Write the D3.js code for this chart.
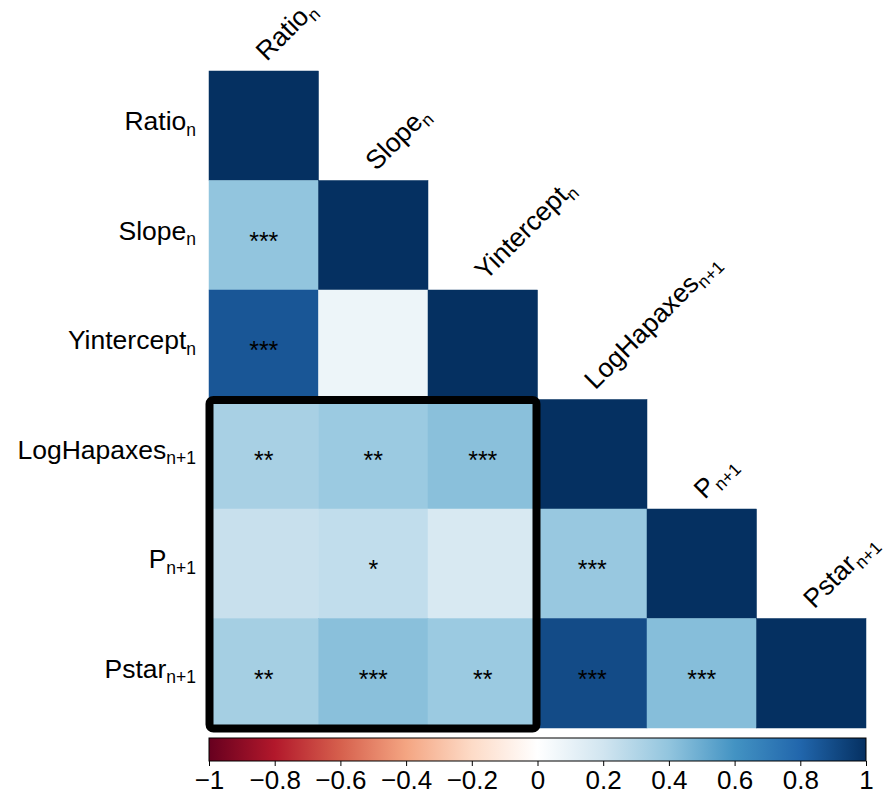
<!DOCTYPE html>
<html>
<head>
<meta charset="utf-8">
<script src="https://cdn.jsdelivr.net/npm/d3@7"></script>
<style>
  html, body { margin: 0; padding: 0; background: #fff; }
  svg { display: block; font-family: "Liberation Sans", Arial, Helvetica, sans-serif; }
</style>
</head>
<body>
<svg id="chart" width="886" height="801"></svg>
<script>
// Variable names (base text + subscript)
const varNames = ["Ratio", "Slope", "Yintercept", "LogHapaxes", "P", "Pstar"];
const varSubs  = ["n", "n", "n", "n+1", "n+1", "n+1"];

// Lower-triangle correlation coefficients, one row per variable
const corrRows = [
  [1.00],
  [0.40, 1.00],
  [0.86, 0.08, 1.00],
  [0.33, 0.37, 0.42, 1.00],
  [0.23, 0.25, 0.17, 0.38, 1.00],
  [0.34, 0.42, 0.37, 0.90, 0.43, 1.00]
];

// Significance markers for the same cells
const sigRows = [
  [""],
  ["***", ""],
  ["***", "", ""],
  ["**", "**", "***", ""],
  ["", "*", "", "***", ""],
  ["**", "***", "**", "***", "***", ""]
];

// Colour bar ticks
const barTicks = [-1, -0.8, -0.6, -0.4, -0.2, 0, 0.2, 0.4, 0.6, 0.8, 1];

// Diverging red-white-blue palette across [-1, 1]
const paletteColors = ["#67001F", "#B2182B", "#D6604D", "#F4A582", "#FDDBC7", "#FFFFFF",
                       "#D1E5F0", "#92C5DE", "#4393C3", "#2166AC", "#053061"];

const svg = d3.select("#chart");
const ids = d3.range(varNames.length);

const x = d3.scaleBand().domain(ids).range([209, 866]).paddingInner(0).paddingOuter(0);
const y = d3.scaleBand().domain(ids).range([71, 728]).paddingInner(0).paddingOuter(0);
const bw = x.bandwidth();

const color = d3.scaleLinear()
  .domain(paletteColors.map((_, i) => -1 + 2 * i / (paletteColors.length - 1)))
  .range(paletteColors)
  .interpolate(d3.interpolateRgb)
  .clamp(true);

// Flatten lower-triangle cells
const cells = [];
corrRows.forEach((row, i) => row.forEach((v, j) => cells.push({ i, j, v, sig: sigRows[i][j] })));

// Heatmap cells
svg.append("g").selectAll("rect")
  .data(cells)
  .join("rect")
  .attr("x", d => x(d.j))
  .attr("y", d => y(d.i))
  .attr("width", bw)
  .attr("height", bw)
  .attr("fill", d => color(d.v))
  .attr("stroke", d => color(d.v))
  .attr("stroke-width", 0.5);

// Significance stars
const starSize = 25;
svg.append("g").selectAll("text")
  .data(cells.filter(d => d.sig))
  .join("text")
  .attr("x", d => x(d.j) + bw / 2)
  .attr("y", d => y(d.i) + bw / 2 + starSize * 0.58)
  .attr("text-anchor", "middle")
  .attr("font-size", starSize)
  .attr("fill", "#000")
  .text(d => d.sig);

// Label helper: main text followed by a subscript
function addLabel(sel, i) {
  sel.append("tspan").attr("font-size", 26.5).text(varNames[i]);
  sel.append("tspan").attr("font-size", 17.5).attr("dy", 5.5).text(varSubs[i]);
}

// Row labels (left)
ids.forEach(i => {
  const t = svg.append("text")
    .attr("x", 196)
    .attr("y", y(i) + bw / 2 + 4.5)
    .attr("text-anchor", "end")
    .attr("fill", "#000");
  addLabel(t, i);
});

// Column labels on the diagonal, rotated
ids.forEach(i => {
  const px = x(i) + bw / 2 + 3;
  const py = y(i) - 9;
  const t = svg.append("text")
    .attr("transform", `translate(${px},${py}) rotate(-45)`)
    .attr("text-anchor", "start")
    .attr("fill", "#000");
  addLabel(t, i);
});

// Highlight box around the cross-block
const bx0 = x(0), bx1 = x(2) + bw, by0 = y(3), by1 = y(5) + bw;
svg.append("rect")
  .attr("x", bx0 + 0.5)
  .attr("y", by0 + 0.5)
  .attr("width", bx1 - bx0 - 1.5)
  .attr("height", by1 - by0)
  .attr("rx", 4)
  .attr("fill", "none")
  .attr("stroke", "#000")
  .attr("stroke-width", 8);

// Colour bar
const barTop = 738, barH = 23;
const cb = d3.scaleLinear().domain([-1, 1]).range([209, 866]);
const defs = svg.append("defs");
const grad = defs.append("linearGradient").attr("id", "corrGrad")
  .attr("x1", "0%").attr("x2", "100%").attr("y1", "0%").attr("y2", "0%");
grad.selectAll("stop")
  .data(color.domain())
  .join("stop")
  .attr("offset", d => ((d + 1) / 2 * 100) + "%")
  .attr("stop-color", d => color(d));

svg.append("rect")
  .attr("x", cb(-1))
  .attr("y", barTop)
  .attr("width", cb(1) - cb(-1))
  .attr("height", barH)
  .attr("fill", "url(#corrGrad)")
  .attr("stroke", "#000")
  .attr("stroke-width", 1);

const axis = d3.axisBottom(cb)
  .tickValues(barTicks)
  .tickSize(5)
  .tickPadding(5)
  .tickFormat(d3.format("~g"));

const ax = svg.append("g")
  .attr("transform", `translate(0,${barTop + barH})`)
  .call(axis);
ax.select(".domain").remove();
ax.selectAll(".tick line").attr("stroke", "#000");
ax.selectAll(".tick text")
  .attr("font-size", 26)
  .attr("font-family", "'Liberation Sans', Arial, Helvetica, sans-serif")
  .attr("fill", "#000");
</script>
</body>
</html>
